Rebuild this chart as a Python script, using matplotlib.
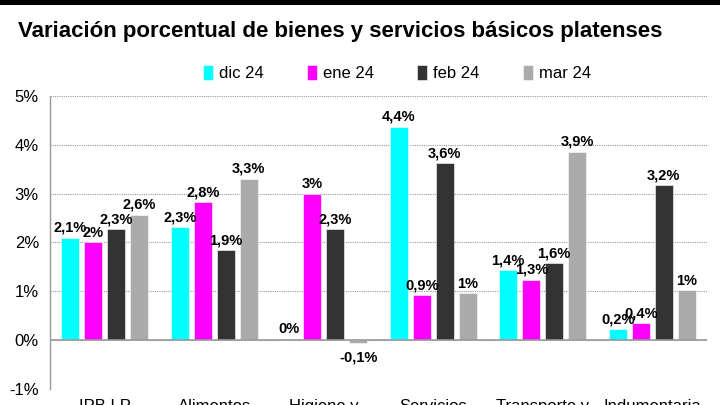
import matplotlib
matplotlib.use("Agg")
import matplotlib.pyplot as plt
import numpy as np
from matplotlib.patches import Rectangle

categories = ["IPB LP", "Alimentos", "Higiene y\nlimpieza", "Servicios", "Transporte y\ncombustible", "Indumentaria"]
series_names = ["dic 24", "ene 24", "feb 24", "mar 24"]
dic24 = [2.10, 2.31, 0.02, 4.37, 1.43, 0.22]
ene24 = [2.00, 2.82, 3.00, 0.92, 1.24, 0.35]
feb24 = [2.27, 1.84, 2.27, 3.63, 1.57, 3.18]
mar24 = [2.57, 3.31, -0.06, 0.96, 3.86, 1.02]
dic24_lbl = ["2,1%", "2,3%", "0%", "4,4%", "1,4%", "0,2%"]
ene24_lbl = ["2%", "2,8%", "3%", "0,9%", "1,3%", "0,4%"]
feb24_lbl = ["2,3%", "1,9%", "2,3%", "3,6%", "1,6%", "3,2%"]
mar24_lbl = ["2,6%", "3,3%", "-0,1%", "1%", "3,9%", "1%"]
yticks = [-1, 0, 1, 2, 3, 4, 5]
ytick_labels = ["-1%", "0%", "1%", "2%", "3%", "4%", "5%"]

colors = ["#00FFFF", "#FF00FF", "#333333", "#ABABAB"]
fam = ["Liberation Sans Narrow", "DejaVu Sans Condensed", "Liberation Sans", "DejaVu Sans"]
lbl_fam = ["Liberation Sans", "DejaVu Sans"]
plt.rcParams['font.family'] = fam

fig = plt.figure(figsize=(7.2, 4.05), dpi=100)
fig.patches.append(Rectangle((0, 1 - 5/405), 1, 5/405, transform=fig.transFigure,
                             facecolor="black", edgecolor="none"))
fig.text(18/720, 1 - 31/405, "Variación porcentual de bienes y servicios básicos platenses",
         fontsize=16, fontweight="bold", va="center", ha="left")

ax = fig.add_axes([50/720, 1 - 389/405, 657/720, 293/405])
x = np.arange(len(categories))
pitch = 0.21
width = 0.165
all_vals = [dic24, ene24, feb24, mar24]
all_lbls = [dic24_lbl, ene24_lbl, feb24_lbl, mar24_lbl]
for i, (vals, lbls) in enumerate(zip(all_vals, all_lbls)):
    pos = x + (i - 1.5) * pitch
    bars = ax.bar(pos, vals, width=width, color=colors[i], label=series_names[i],
                  edgecolor="white", linewidth=0.4, zorder=3)
    for b, v, l in zip(bars, vals, lbls):
        cx = b.get_x() + b.get_width() / 2
        if v >= 0:
            ax.annotate(l, (cx, v), xytext=(0, 2), textcoords="offset points",
                        ha="center", va="bottom", fontsize=10.5, fontweight="bold",
                        family=lbl_fam, zorder=5)
        else:
            ax.annotate(l, (cx, v), xytext=(0, -5), textcoords="offset points",
                        ha="center", va="top", fontsize=10.5, fontweight="bold",
                        family=lbl_fam, zorder=5)

ax.set_xlim(-0.5, len(categories) - 0.5)
ax.set_ylim(-1, 5)
ax.set_yticks(yticks)
ax.set_yticklabels(ytick_labels, fontsize=12)
ax.set_xticks(x)
ax.set_xticklabels(categories, fontsize=12, va="top")
ax.tick_params(axis="x", length=0, pad=7)
ax.tick_params(axis="y", length=0, pad=8)
ax.grid(axis="y", color="#999999", linestyle=(0, (1, 1)), linewidth=0.8, zorder=0)
ax.axhline(0, color="#999999", linewidth=1.2, zorder=4)
for s in ["top", "right", "bottom"]:
    ax.spines[s].set_visible(False)
ax.spines["left"].set_color("#999999")
ax.spines["left"].set_linewidth(1.0)

handles, labels = ax.get_legend_handles_labels()
fig.legend(handles, labels, loc="center", bbox_to_anchor=(397/720, 1 - 73/405), ncol=4,
           frameon=False, fontsize=12, handlelength=0.6, handleheight=1.0,
           handletextpad=0.35, columnspacing=2.6)

fig.savefig("out.png", dpi=100)
